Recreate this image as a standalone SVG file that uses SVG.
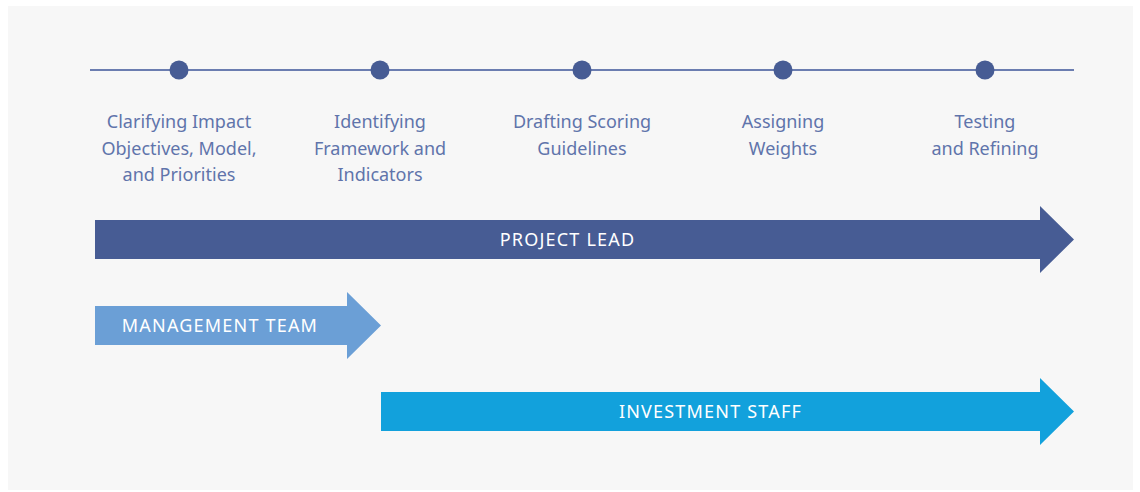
<svg xmlns="http://www.w3.org/2000/svg" width="1140" height="492" viewBox="0 0 1140 492">
<style>
.lbl{font-family:"Source Sans Pro","Noto Sans","Open Sans",sans-serif;font-size:18px;fill:#6074ab;text-anchor:middle}
.bar{font-family:"Noto Sans","Open Sans",sans-serif;font-size:18px;fill:#ffffff;text-anchor:middle;letter-spacing:1.2px}
.dot{fill:#475c94}
</style>
<rect x="0" y="0" width="1140" height="492" fill="#ffffff"/>
<rect x="8" y="6" width="1125" height="484" fill="#f7f7f7"/>
<g id="connectors">
<line x1="90" y1="70" x2="1074" y2="70" stroke="#6b7db0" stroke-width="2"/>
</g>
<g id="step1"><circle class="dot" cx="179" cy="70" r="9.5"/>
<text class="lbl" x="179" y="128">Clarifying Impact</text>
<text class="lbl" x="179" y="155">Objectives, Model,</text>
<text class="lbl" x="179" y="181">and Priorities</text></g>
<g id="step2"><circle class="dot" cx="380" cy="70" r="9.5"/>
<text class="lbl" x="380" y="128">Identifying</text>
<text class="lbl" x="380" y="155">Framework and</text>
<text class="lbl" x="380" y="181">Indicators</text></g>
<g id="step3"><circle class="dot" cx="582" cy="70" r="9.5"/>
<text class="lbl" x="582" y="128">Drafting Scoring</text>
<text class="lbl" x="582" y="155">Guidelines</text></g>
<g id="step4"><circle class="dot" cx="783" cy="70" r="9.5"/>
<text class="lbl" x="783" y="128">Assigning</text>
<text class="lbl" x="783" y="155">Weights</text></g>
<g id="step5"><circle class="dot" cx="985" cy="70" r="9.5"/>
<text class="lbl" x="985" y="128">Testing</text>
<text class="lbl" x="985" y="155">and Refining</text></g>
<g id="project-lead">
<polygon points="95,220 1040,220 1040,206 1074,239.5 1040,273 1040,259 95,259" fill="#475c94"/>
<text class="bar" x="567.5" y="245.5">PROJECT LEAD</text></g>
<g id="management-team">
<polygon points="95,306 347,306 347,292 381,325.5 347,359 347,345 95,345" fill="#6b9fd6"/>
<text class="bar" x="220" y="331.5">MANAGEMENT TEAM</text></g>
<g id="investment-staff">
<polygon points="381,392 1040,392 1040,378 1074,411.5 1040,445 1040,431 381,431" fill="#12a1dc"/>
<text class="bar" x="710.5" y="417.5">INVESTMENT STAFF</text></g>
</svg>
